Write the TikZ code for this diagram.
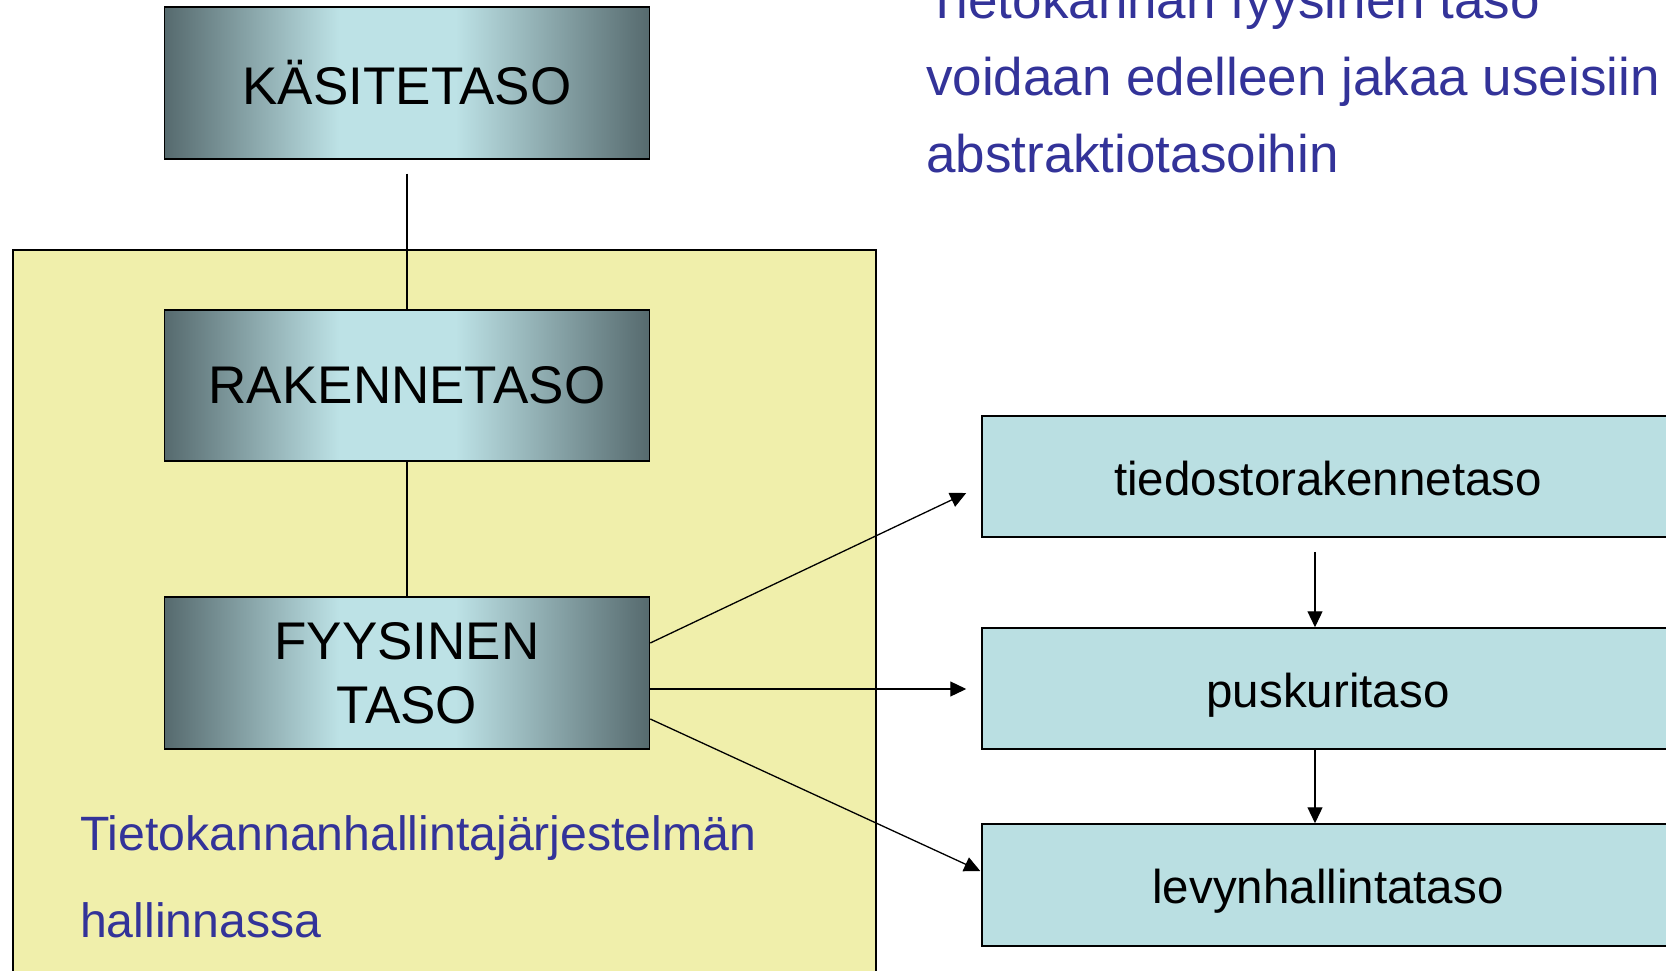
\documentclass[tikz,border=0pt]{standalone}
\usepackage{fontspec}
\setmainfont{Liberation Sans}
\usetikzlibrary{arrows.meta}

\definecolor{slatedark}{RGB}{86,106,110}
\definecolor{slatelight}{RGB}{189,226,230}
\definecolor{levelfill}{RGB}{186,223,226}
\definecolor{dbmsfill}{RGB}{240,239,171}
\definecolor{notecolor}{RGB}{51,51,153}

% steel-like horizontal gradient: dark edges, light centre
\pgfdeclarehorizontalshading{steel}{100bp}{%
  color(0bp)=(slatedark); color(25bp)=(slatedark);
  color(43bp)=(slatelight); color(55bp)=(slatelight);
  color(75bp)=(slatedark); color(100bp)=(slatedark)}

\tikzset{
  levelbox/.style={rectangle, draw=black, line width=1.5pt, inner sep=0pt,
    minimum width=485pt, minimum height=152pt, shade, shading=steel,
    align=center, font=\fontsize{53}{64}\selectfont},
  sublevel/.style={rectangle, draw=black, line width=1.5pt, inner sep=0pt,
    fill=levelfill, minimum width=692pt, minimum height=121pt,
    text height=37pt, text depth=0pt,
    font=\fontsize{47.5}{57}\selectfont},
  link/.style={line width=1.3pt, draw=black},
  flow/.style={line width=1.3pt, draw=black, -{Triangle[length=16pt,width=15pt]}},
  bignote/.style={anchor=base west, inner sep=0pt, text=notecolor,
    font=\fontsize{53}{64}\selectfont},
  dbmsnote/.style={anchor=base west, inner sep=0pt, text=notecolor,
    font=\fontsize{48.2}{58}\selectfont}
}

\begin{document}
\begin{tikzpicture}[x=1pt, y=-1pt]
  \useasboundingbox (0,0) rectangle (1666,971);
  \clip (0,0) rectangle (1666,971);

  % DBMS area
  \draw[line width=1.5pt, fill=dbmsfill] (13,250) rectangle (876,1000);

  % abstraction levels
  \node[levelbox] (kasite) at (407,83) {KÄSITETASO};
  \node[levelbox, minimum height=151pt] (rak) at (407,385.5) {RAKENNETASO};
  \node[levelbox] (fys) at (407,673) {FYYSINEN\\TASO};

  \draw[link] ([yshift=-14pt]kasite.south) -- (rak.north);
  \draw[link] (rak.south) -- (fys.north);

  % physical sub-levels
  \node[sublevel] (tied) at (1328,476.5) {tiedostorakennetaso};
  \node[sublevel] (pusk) at (1328,688.5) {puskuritaso};
  \node[sublevel, minimum height=122pt] (levy) at (1328,885) {levynhallintataso};

  \draw[flow] ([yshift=30pt]fys.east) -- ([xshift=-15pt, yshift=-16.5pt]tied.west);
  \draw[flow] ([yshift=-16pt]fys.east) -- ([xshift=-15pt, yshift=-0.5pt]pusk.west);
  \draw[flow] ([yshift=-46pt]fys.east) -- ([xshift=-1pt, yshift=14pt]levy.west);

  \draw[flow] ([xshift=-13pt, yshift=-14pt]tied.south) -- ([xshift=-13pt]pusk.north);
  \draw[flow] ([xshift=-13pt]pusk.south) -- ([xshift=-13pt]levy.north);

  % notes
  \node[bignote] (n1) at (926,19) {Tietokannan fyysinen taso};
  \node[bignote] (n2) at (926,96) {voidaan edelleen jakaa useisiin};
  \node[bignote] (n3) at (926,172) {abstraktiotasoihin};

  \node[dbmsnote] (d1) at (80,850) {Tietokannanhallintajärjestelmän};
  \node[dbmsnote] (d2) at (80,937) {hallinnassa};
\end{tikzpicture}
\end{document}
